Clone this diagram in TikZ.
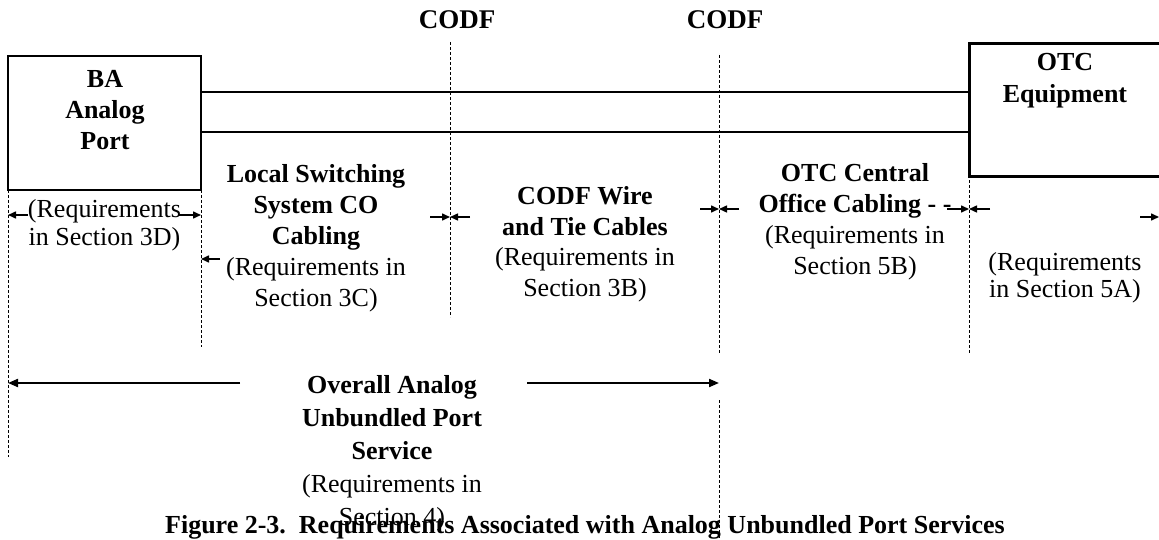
\documentclass[tikz,border=0pt]{standalone}
\usepackage{fontspec}
\setmainfont{Liberation Serif}
\usetikzlibrary{arrows.meta}
\begin{document}
\begin{tikzpicture}[x=1pt,y=-1pt,
  txt/.style={inner sep=0pt,align=center,font=\fontsize{26}{31}\selectfont},
  btxt/.style={txt,font=\fontsize{26}{31}\selectfont\bfseries},
  boxline/.style={line width=2.6pt},
  wire/.style={line width=2.4pt},
  guide/.style={line width=0.9pt,dash pattern=on 3pt off 2pt},
  small/.style={line width=1.5pt,-{Triangle[length=8pt,width=7pt]}},
  big/.style={line width=2pt,-{Triangle[length=10pt,width=8pt]}}]
\useasboundingbox (0,0) rectangle (1159,540);
% boxes
\node[draw,boxline,minimum width=193pt,minimum height=134pt,inner sep=0pt] (ba) at (104.5,123) {};
\node[draw,boxline,minimum width=210pt,minimum height=133pt,inner sep=0pt,anchor=north west] (otc) at (968,42) {};
\node[btxt] (batxt) at (105,110) {BA\\Analog\\Port};
\node[btxt,font=\fontsize{26}{32}\selectfont\bfseries] (otctxt) at (1065,81) {OTC\\Equipment};
% wires
\coordinate (w1a) at (201,92); \coordinate (w1b) at (968,92);
\coordinate (w2a) at (201,132); \coordinate (w2b) at (968,132);
\draw[wire] (w1a) -- (w1b);
\draw[wire] (w2a) -- (w2b);
% CODF labels
\node[btxt,font=\fontsize{27}{31}\selectfont\bfseries] (codf1) at (457,20) {CODF};
\node[btxt,font=\fontsize{27}{31}\selectfont\bfseries] (codf2) at (725,20) {CODF};
% dashed guide lines
\coordinate (g1t) at (8,190); \coordinate (g1b) at (8,457);
\coordinate (g2t) at (201,190); \coordinate (g2b) at (201,347);
\coordinate (g3t) at (450,42); \coordinate (g3b) at (450,317);
\coordinate (g4t) at (719,55); \coordinate (g4b) at (719,353);
\coordinate (g5t) at (719,400); \coordinate (g5b) at (719,540);
\coordinate (g6t) at (969,175); \coordinate (g6b) at (969,353);
\draw[guide] (g1t) -- (g1b);
\draw[guide] (g2t) -- (g2b);
\draw[guide] (g3t) -- (g3b);
\draw[guide] (g4t) -- (g4b);
\draw[guide] (g5t) -- (g5b);
\draw[guide] (g6t) -- (g6b);
% texts
\node[txt,font=\fontsize{26}{28}\selectfont] (r3d) at (104.5,225) {(Requirements\\in Section 3D)};
\node[txt] (lss) at (316,238) {\textbf{Local Switching}\\\textbf{System CO}\\\textbf{Cabling}\\(Requirements in\\Section 3C)};
\node[txt,font=\fontsize{26}{30.5}\selectfont] (codfw) at (585,244) {\textbf{CODF Wire}\\\textbf{and Tie Cables}\\(Requirements in\\Section 3B)};
\node[txt] (otcc) at (855,222) {\textbf{OTC Central}\\\textbf{Office Cabling - -}\\(Requirements in\\Section 5B)};
\node[txt,font=\fontsize{26}{27}\selectfont] (r5a) at (1065,278) {(Requirements\\in Section 5A)};
\node[txt,font=\fontsize{26}{33}\selectfont] (overall) at (392,453) {\textbf{Overall Analog}\\\textbf{Unbundled Port}\\\textbf{Service}\\(Requirements in\\Section 4)};
\node[btxt] (caption) at (585,527) {Figure 2-3.\ \ Requirements Associated with Analog Unbundled Port Services};
% small arrows
\coordinate (a1s) at (28,215); \coordinate (a1e) at (8,215);
\coordinate (a2s) at (178,215); \coordinate (a2e) at (201,215);
\coordinate (a3s) at (220,259); \coordinate (a3e) at (201,259);
\coordinate (a4s) at (430,217); \coordinate (a4e) at (450,217);
\coordinate (a5s) at (470,217); \coordinate (a5e) at (450,217);
\coordinate (a6s) at (700,209); \coordinate (a6e) at (719,209);
\coordinate (a7s) at (739,209); \coordinate (a7e) at (719,209);
\coordinate (a8s) at (947,209); \coordinate (a8e) at (969,209);
\coordinate (a9s) at (990,209); \coordinate (a9e) at (969,209);
\coordinate (a10s) at (1140,217); \coordinate (a10e) at (1159,217);
\foreach \i in {1,...,10} \draw[small] (a\i s) -- (a\i e);
% overall arrows
\coordinate (o1s) at (240,383); \coordinate (o1e) at (8,383);
\coordinate (o2s) at (527,383); \coordinate (o2e) at (719,383);
\draw[big] (o1s) -- (o1e);
\draw[big] (o2s) -- (o2e);
\end{tikzpicture}
\end{document}
